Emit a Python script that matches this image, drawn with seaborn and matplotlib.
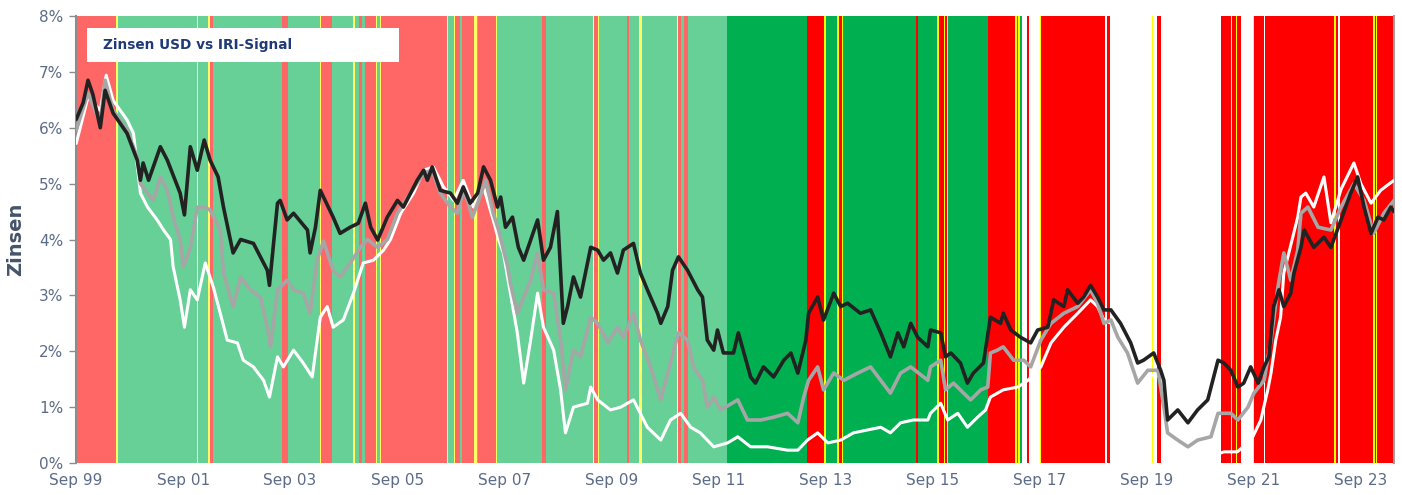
import pandas as pd
import matplotlib.pyplot as plt
import matplotlib.dates as mdates
from matplotlib.patches import Rectangle
import seaborn as sns

# Zeit als Dezimaljahr, Zinsen in Prozent
t_schwarz = [1999.67, 1999.80, 1999.89, 1999.98, 2000.12, 2000.21, 2000.36, 2000.62, 2000.81, 2000.87,
             2000.92, 2001.02, 2001.24, 2001.37, 2001.61, 2001.69, 2001.80, 2001.93, 2002.06, 2002.17,
             2002.32, 2002.42, 2002.55, 2002.60, 2002.74, 2002.98, 2003.24, 2003.28, 2003.43, 2003.48,
             2003.61, 2003.73, 2003.99, 2004.04, 2004.14, 2004.23, 2004.32, 2004.47, 2004.60, 2004.79,
             2004.94, 2005.07, 2005.17, 2005.30, 2005.48, 2005.67, 2005.78, 2006.04, 2006.16, 2006.23,
             2006.32, 2006.47, 2006.66, 2006.79, 2006.90, 2007.03, 2007.17, 2007.28, 2007.41, 2007.54,
             2007.60, 2007.69, 2007.82, 2007.93, 2008.03, 2008.29, 2008.40, 2008.53, 2008.66, 2008.77,
             2008.85, 2008.96, 2009.09, 2009.28, 2009.41, 2009.52, 2009.65, 2009.78, 2009.89, 2010.08,
             2010.21, 2010.34, 2010.53, 2010.59, 2010.72, 2010.81, 2010.92, 2011.09, 2011.28, 2011.37,
             2011.46, 2011.58, 2011.65, 2011.76, 2011.95, 2012.04, 2012.27, 2012.36, 2012.51, 2012.70,
             2012.89, 2013.02, 2013.15, 2013.30, 2013.35, 2013.52, 2013.63, 2013.82, 2013.95, 2014.08,
             2014.32, 2014.51, 2014.70, 2014.88, 2015.02, 2015.13, 2015.26, 2015.39, 2015.58, 2015.63,
             2015.82, 2015.91, 2016.01, 2016.19, 2016.32, 2016.43, 2016.62, 2016.75, 2016.94, 2016.99,
             2017.13, 2017.31, 2017.50, 2017.63, 2017.82, 2017.93, 2018.12, 2018.19, 2018.38, 2018.49,
             2018.62, 2018.75, 2018.87, 2019.00, 2019.18, 2019.37, 2019.50, 2019.61, 2019.80, 2019.93,
             2019.99, 2020.06, 2020.25, 2020.44, 2020.62, 2020.81, 2021.00, 2021.11, 2021.24, 2021.37,
             2021.48, 2021.61, 2021.75, 2021.86, 2021.95, 2022.04, 2022.14, 2022.23, 2022.36, 2022.42,
             2022.55, 2022.61, 2022.79, 2022.98, 2023.11, 2023.30, 2023.48, 2023.61, 2023.73, 2023.86,
             2023.99, 2024.10, 2024.23, 2024.29]
v_schwarz = [6.15, 6.45, 6.85, 6.60, 6.00, 6.67, 6.26, 5.90, 5.42, 5.06,
             5.37, 5.06, 5.66, 5.42, 4.83, 4.44, 5.66, 5.24, 5.78, 5.42,
             5.12, 4.58, 3.99, 3.76, 4.00, 3.93, 3.45, 3.18, 4.65, 4.70,
             4.35, 4.47, 4.17, 3.76, 4.22, 4.88, 4.70, 4.40, 4.11, 4.22,
             4.29, 4.65, 4.22, 3.99, 4.40, 4.70, 4.58, 5.06, 5.24, 5.06,
             5.30, 4.88, 4.83, 4.65, 4.94, 4.65, 4.83, 5.30, 5.06, 4.58,
             4.76, 4.22, 4.40, 3.86, 3.63, 4.35, 3.63, 3.86, 4.50, 2.50,
             2.80, 3.33, 2.97, 3.86, 3.81, 3.63, 3.76, 3.40, 3.81, 3.93,
             3.40, 3.10, 2.68, 2.50, 2.80, 3.45, 3.69, 3.45, 3.10, 2.97,
             2.20, 2.02, 2.38, 1.97, 1.97, 2.33, 1.54, 1.43, 1.72, 1.54,
             1.84, 1.97, 1.61, 2.20, 2.68, 2.97, 2.56, 3.04, 2.80, 2.86,
             2.68, 2.74, 2.33, 1.90, 2.33, 2.08, 2.50, 2.25, 2.08, 2.38,
             2.33, 1.90, 1.97, 1.79, 1.43, 1.61, 1.79, 2.61, 2.50, 2.68,
             2.38, 2.25, 2.15, 2.38, 2.43, 2.92, 2.80, 3.10, 2.86, 2.97,
             3.18, 2.97, 2.74, 2.74, 2.50, 2.15, 1.79, 1.84, 1.97, 1.66,
             1.48, 0.77, 0.95, 0.72, 0.95, 1.13, 1.84, 1.79, 1.66, 1.36,
             1.43, 1.72, 1.43, 1.72, 1.90, 2.80, 3.10, 2.80, 3.04, 3.40,
             3.86, 4.17, 3.86, 4.04, 3.86, 4.35, 4.83, 5.12, 4.58, 4.11,
             4.40, 4.35, 4.58, 4.50]

t_grau = [1999.67, 1999.89, 2000.12, 2000.21, 2000.36, 2000.62, 2000.81, 2000.87, 2001.00, 2001.11,
          2001.24, 2001.37, 2001.48, 2001.61, 2001.67, 2001.80, 2001.93, 2002.06, 2002.17, 2002.36,
          2002.42, 2002.60, 2002.74, 2002.92, 2003.11, 2003.24, 2003.30, 2003.43, 2003.61, 2003.73,
          2003.91, 2004.04, 2004.17, 2004.29, 2004.47, 2004.60, 2004.79, 2004.98, 2005.11, 2005.30,
          2005.48, 2005.67, 2005.91, 2006.16, 2006.32, 2006.47, 2006.66, 2006.79, 2006.90, 2006.98,
          2007.07, 2007.17, 2007.32, 2007.46, 2007.56, 2007.73, 2007.78, 2007.91, 2008.03, 2008.16,
          2008.29, 2008.40, 2008.59, 2008.72, 2008.81, 2008.96, 2009.09, 2009.28, 2009.41, 2009.60,
          2009.78, 2009.89, 2010.08, 2010.21, 2010.40, 2010.59, 2010.77, 2010.92, 2011.09, 2011.20,
          2011.37, 2011.46, 2011.58, 2011.71, 2012.03, 2012.21, 2012.46, 2012.70, 2012.96, 2013.15,
          2013.26, 2013.35, 2013.52, 2013.63, 2013.82, 2014.01, 2014.27, 2014.51, 2014.70, 2014.88,
          2015.07, 2015.26, 2015.58, 2015.63, 2015.82, 2015.91, 2016.06, 2016.25, 2016.38, 2016.57,
          2016.70, 2016.75, 2016.88, 2016.99, 2017.18, 2017.37, 2017.50, 2017.69, 2017.88, 2018.12,
          2018.38, 2018.62, 2018.75, 2018.87, 2019.00, 2019.13, 2019.31, 2019.50, 2019.69, 2019.88,
          2019.99, 2020.06, 2020.25, 2020.44, 2020.62, 2020.87, 2021.00, 2021.24, 2021.37, 2021.56,
          2021.67, 2021.86, 2021.99, 2022.12, 2022.23, 2022.36, 2022.49, 2022.55, 2022.68, 2022.87,
          2023.11, 2023.30, 2023.54, 2023.73, 2023.91, 2024.10, 2024.29]
v_grau = [5.96, 6.62, 6.08, 6.85, 6.31, 5.96, 5.47, 5.00, 4.83, 4.70,
          5.12, 4.88, 4.40, 4.00, 3.51, 3.86, 4.58, 4.58, 4.53, 4.17,
          3.40, 2.80, 3.33, 3.10, 2.97, 2.43, 2.08, 3.10, 3.27, 3.10,
          3.04, 2.68, 3.63, 3.97, 3.45, 3.33, 3.58, 3.86, 4.00, 3.86,
          4.00, 4.47, 4.83, 5.19, 5.24, 4.83, 4.58, 4.47, 4.88, 4.70,
          4.40, 4.65, 5.06, 4.47, 4.17, 3.51, 3.22, 2.68, 2.97, 3.27,
          3.76, 3.10, 3.04, 2.20, 1.31, 2.02, 1.90, 2.61, 2.50, 2.15,
          2.43, 2.25, 2.68, 2.20, 1.72, 1.13, 1.79, 2.33, 2.20, 1.72,
          1.48, 1.00, 1.18, 0.95, 1.13, 0.77, 0.77, 0.82, 0.89, 0.72,
          1.18, 1.48, 1.72, 1.31, 1.61, 1.48, 1.61, 1.72, 1.48, 1.25,
          1.61, 1.72, 1.48, 1.72, 1.84, 1.31, 1.43, 1.25, 1.13, 1.31,
          1.36, 1.97, 2.02, 2.08, 1.84, 1.84, 1.72, 2.20, 2.50, 2.68,
          2.80, 3.10, 2.86, 2.50, 2.56, 2.25, 1.97, 1.43, 1.66, 1.66,
          1.00, 0.54, 0.41, 0.29, 0.41, 0.47, 0.89, 0.89, 0.77, 1.00,
          1.25, 1.48, 2.20, 3.15, 3.76, 3.27, 3.81, 4.47, 4.58, 4.22,
          4.17, 4.58, 5.00, 4.70, 4.11, 4.47, 4.70]

t_weiss = [1999.67, 1999.89, 2000.12, 2000.23, 2000.36, 2000.62, 2000.74, 2000.87, 2001.00, 2001.18,
           2001.30, 2001.43, 2001.48, 2001.61, 2001.69, 2001.80, 2001.93, 2002.08, 2002.23, 2002.36,
           2002.49, 2002.68, 2002.79, 2002.98, 2003.17, 2003.28, 2003.43, 2003.54, 2003.73, 2003.91,
           2004.08, 2004.23, 2004.36, 2004.47, 2004.66, 2004.85, 2005.03, 2005.22, 2005.41, 2005.54,
           2005.73, 2005.97, 2006.16, 2006.34, 2006.53, 2006.72, 2006.90, 2007.09, 2007.28, 2007.46,
           2007.56, 2007.65, 2007.78, 2007.91, 2008.03, 2008.16, 2008.29, 2008.40, 2008.59, 2008.72,
           2008.81, 2008.96, 2009.22, 2009.28, 2009.41, 2009.65, 2009.84, 2010.08, 2010.34, 2010.59,
           2010.77, 2010.96, 2011.15, 2011.33, 2011.58, 2011.84, 2012.03, 2012.27, 2012.59, 2012.96,
           2013.15, 2013.33, 2013.52, 2013.71, 2013.95, 2014.19, 2014.45, 2014.70, 2014.88, 2015.07,
           2015.31, 2015.58, 2015.63, 2015.82, 2015.95, 2016.14, 2016.32, 2016.51, 2016.66, 2016.75,
           2016.99, 2017.26, 2017.45, 2017.69, 2017.88, 2018.12, 2018.38, 2018.62, 2018.75, 2018.87,
           2019.00, 2019.37, 2019.61, 2019.93, 2020.06, 2020.31, 2020.68, 2020.96, 2021.11, 2021.36,
           2021.42, 2021.65, 2021.80, 2021.93, 2021.99, 2022.08, 2022.17, 2022.23, 2022.36, 2022.49,
           2022.55, 2022.64, 2022.79, 2022.98, 2023.11, 2023.30, 2023.54, 2023.67, 2023.86, 2024.04,
           2024.29]
v_weiss = [5.72, 6.55, 6.31, 6.94, 6.49, 6.14, 5.90, 4.83, 4.58, 4.35,
           4.17, 4.00, 3.51, 2.92, 2.43, 3.10, 2.92, 3.58, 3.15, 2.68,
           2.20, 2.15, 1.84, 1.72, 1.48, 1.18, 1.90, 1.72, 2.02, 1.79,
           1.54, 2.61, 2.80, 2.43, 2.56, 3.04, 3.58, 3.63, 3.81, 4.00,
           4.47, 4.83, 5.24, 5.30, 4.94, 4.70, 5.06, 4.58, 4.94, 4.35,
           4.00, 3.76, 3.04, 2.33, 1.43, 2.20, 3.04, 2.43, 2.02, 1.31,
           0.54, 1.00, 1.07, 1.36, 1.13, 0.95, 1.00, 1.13, 0.64, 0.41,
           0.77, 0.89, 0.64, 0.54, 0.29, 0.36, 0.47, 0.29, 0.29, 0.23,
           0.23, 0.41, 0.54, 0.36, 0.41, 0.54, 0.59, 0.64, 0.54, 0.72,
           0.77, 0.77, 0.89, 1.07, 0.77, 0.89, 0.64, 0.82, 0.95, 1.18,
           1.31, 1.36, 1.48, 1.72, 2.15, 2.43, 2.68, 2.92, 2.80, 2.56,
           2.50, 2.20, 1.60, 1.55, 0.30, 0.20, 0.15, 0.15, 0.20, 0.20,
           0.25, 0.47, 0.77, 1.31, 1.61, 2.20, 2.61, 3.40, 3.90, 4.40,
           4.76, 4.83, 4.58, 5.12, 4.30, 4.90, 5.37, 5.00, 4.65, 4.88,
           5.06]

# IRI-Signal: Beginn jeder Phase (Dezimaljahr) und Signal-Code
signal_start = [1999.67, 2000.42, 2000.45, 2001.93, 2001.95, 2002.13, 2002.16, 2002.23, 2003.52, 2003.63,
                2004.23, 2004.25, 2004.45, 2004.85, 2004.88, 2004.96, 2005.00, 2005.07, 2005.26, 2005.29,
                2005.35, 2005.37, 2006.60, 2006.62, 2006.72, 2006.74, 2006.83, 2006.87, 2007.11, 2007.15,
                2007.18, 2007.52, 2007.54, 2008.38, 2008.45, 2009.33, 2009.35, 2009.41, 2009.43, 2009.95,
                2009.99, 2010.18, 2010.23, 2010.90, 2010.92, 2010.96, 2011.03, 2011.09, 2011.82, 2013.33,
                2013.63, 2013.67, 2013.89, 2013.91, 2013.97, 2013.99, 2015.35, 2015.39, 2015.76, 2015.78,
                2015.88, 2015.91, 2015.93, 2015.95, 2016.70, 2017.20, 2017.24, 2017.26, 2017.30, 2017.33,
                2017.43, 2017.46, 2017.67, 2017.69, 2018.88, 2018.92, 2018.98, 2019.76, 2019.78, 2019.86,
                2019.93, 2021.05, 2021.24, 2021.27, 2021.33, 2021.36, 2021.43, 2021.65, 2021.67, 2021.86,
                2021.88, 2023.17, 2023.20, 2023.24, 2023.28, 2023.89, 2023.93, 2023.95, 2023.98]
signal_code = ['r', 'y', 'g', 'y', 'g', 'y', 'r', 'g', 'r', 'g',
               'y', 'r', 'g', 'y', 'g', 'r', 'g', 'r', 'y', 'g',
               'y', 'r', 'y', 'g', 'y', 'r', 'g', 'r', 'y', 'g',
               'r', 'y', 'g', 'r', 'g', 'y', 'r', 'y', 'g', 'r',
               'g', 'y', 'g', 'y', 'r', 'g', 'r', 'g', 'G', 'R',
               'Y', 'G', 'Y', 'R', 'Y', 'G', 'R', 'G', 'Y', 'R',
               'Y', 'R', 'Y', 'G', 'R', 'Y', 'G', 'Y', 'G', 'w',
               'R', 'w', 'Y', 'R', 'w', 'R', 'w', 'Y', 'w', 'R',
               'w', 'R', 'Y', 'R', 'Y', 'R', 'w', 'Y', 'R', 'w',
               'R', 'Y', 'R', 'w', 'R', 'Y', 'R', 'Y', 'R']
signal_ende = 2024.29

farben = {'r': '#FF6666', 'g': '#66D096', 'y': '#FFFF66',
          'R': '#FF0000', 'G': '#00B050', 'Y': '#FFFF00', 'w': '#FFFFFF'}


def zu_datum(jahre):
    # Dezimaljahr -> Timestamp
    out = []
    for j in jahre:
        y = int(j)
        out.append(pd.Timestamp(year=y, month=1, day=1) + pd.Timedelta(days=(j - y) * 365.25))
    return out


sns.set_style("white")
plt.rcParams['font.family'] = ['DejaVu Sans']

fig, ax = plt.subplots(figsize=(14.02, 4.95), dpi=100)
fig.subplots_adjust(left=0.0542, right=0.9943, top=0.9677, bottom=0.0646)

# Hintergrund: Signalphasen
starts = zu_datum(signal_start)
enden = zu_datum(signal_start[1:] + [signal_ende])
for s, e, c in zip(starts, enden, signal_code):
    ax.axvspan(s, e, color=farben[c], lw=0, zorder=0)

# Zinslinien
df_w = pd.DataFrame({'datum': zu_datum(t_weiss), 'zins': v_weiss})
df_g = pd.DataFrame({'datum': zu_datum(t_grau), 'zins': v_grau})
df_s = pd.DataFrame({'datum': zu_datum(t_schwarz), 'zins': v_schwarz})
sns.lineplot(data=df_w, x='datum', y='zins', color='white', lw=2.2, ax=ax, zorder=3)
sns.lineplot(data=df_g, x='datum', y='zins', color='#A6A6A6', lw=2.6, ax=ax, zorder=4)
sns.lineplot(data=df_s, x='datum', y='zins', color='#222222', lw=2.6, ax=ax, zorder=5)

# Achsen
ax.set_xlim(zu_datum([1999.67])[0], zu_datum([signal_ende])[0])
ax.set_ylim(0, 8)
ax.set_yticks(range(0, 9))
ax.set_yticklabels([f'{i}%' for i in range(0, 9)])
ax.set_xticks([pd.Timestamp(f'{y}-09-01') for y in range(1999, 2024, 2)])
ax.xaxis.set_major_formatter(mdates.DateFormatter('%b %y'))
ax.tick_params(axis='y', length=5, width=1, color='#8C8C8C', labelsize=11,
               labelcolor='#5C6C88', pad=4, left=True)
ax.tick_params(axis='x', length=0, labelsize=11, labelcolor='#5C6C88', pad=7)
ax.set_xlabel('')
ax.set_ylabel('Zinsen', fontsize=14, fontweight='bold', color='#44546A', labelpad=10)

for side in ['top', 'bottom']:
    ax.spines[side].set_visible(False)
ax.spines['left'].set_color('#8C8C8C')
ax.spines['left'].set_linewidth(1.5)
ax.spines['right'].set_color('#A0A0A0')
ax.spines['right'].set_linewidth(1.5)

# Titelbox
ax.add_patch(Rectangle((0.0083, 0.897), 0.237, 0.076, transform=ax.transAxes,
                       facecolor='white', edgecolor='none', zorder=6))
ax.text(0.0205, 0.935, 'Zinsen USD vs IRI-Signal', transform=ax.transAxes,
        fontsize=9.8, fontweight='bold', color='#203A78', va='center', ha='left', zorder=7)

plt.savefig('out.png', dpi=100)
plt.close()
